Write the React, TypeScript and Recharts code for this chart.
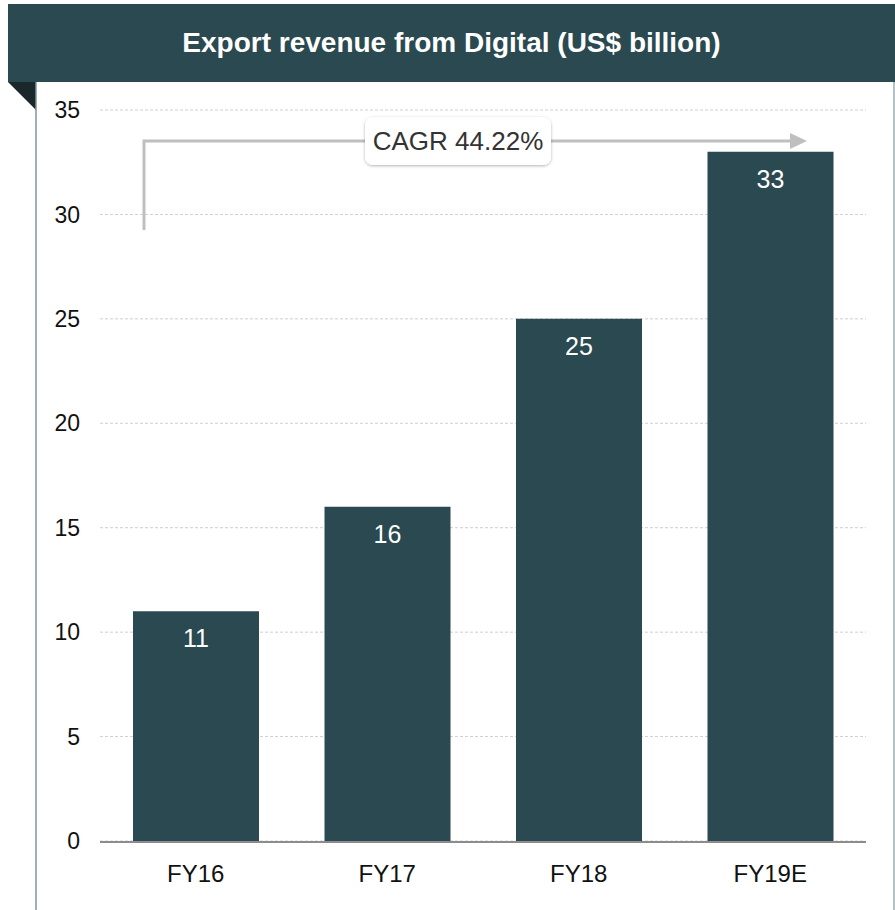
import React from 'react';
import { BarChart, Bar, XAxis, YAxis, CartesianGrid, LabelList } from 'recharts';

// Export revenue from Digital (US$ billion)
const years = ['FY16', 'FY17', 'FY18', 'FY19E'];
const revenue = [11, 16, 25, 33];
const yTicks = [0, 5, 10, 15, 20, 25, 30, 35];
const edgeTicks = [0, 1, 2, 3, 4];
const cagrLabel = 'CAGR 44.22%';

const data = years.map((name, i) => ({ name, value: revenue[i] }));

const FONT = '"Liberation Sans", Arial, sans-serif';
const TEAL = '#2a4950';

export default function App() {
  return (
    <div style={{ position: 'absolute', left: 0, top: 0, width: 895, height: 910, background: '#fff', fontFamily: FONT, overflow: 'hidden' }}>
      {/* header band */}
      <div
        style={{
          position: 'absolute',
          left: 8,
          top: 4,
          width: 887,
          height: 78,
          background: TEAL,
          color: '#fff',
          fontWeight: 'bold',
          fontSize: 28,
          lineHeight: '78px',
          textAlign: 'center',
        }}
      >
        Export revenue from Digital (US$ billion)
      </div>

      {/* frame: fold + side lines */}
      <svg width={895} height={910} style={{ position: 'absolute', left: 0, top: 0 }}>
        <polygon points="8,82 36,82 36,110" fill="#1a272b" />
        <line x1={36} y1={82} x2={36} y2={910} stroke="#7f959a" strokeWidth={1.5} />
        <line x1={894} y1={82} x2={894} y2={910} stroke="#9aabaf" strokeWidth={1.5} />
      </svg>

      <div style={{ position: 'absolute', left: 0, top: 0 }}>
        <BarChart width={895} height={910} data={data} margin={{ top: 110, right: 29, bottom: 0, left: 0 }}>
          <CartesianGrid vertical={false} stroke="#cfcfcf" strokeDasharray="3 2" />
          <XAxis
            dataKey="name"
            axisLine={false}
            tickLine={false}
            height={1}
            tickMargin={18}
            tick={{ fill: '#111', fontSize: 24, fontFamily: FONT }}
          />
          {/* boundary tick marks + axis line, stacked just under the category axis */}
          <XAxis
            xAxisId="edges"
            type="number"
            domain={[0, 4]}
            allowDataOverflow
            ticks={edgeTicks}
            tick={false}
            height={68}
            tickSize={7}
            stroke="#8c8c8c"
            strokeWidth={2}
          />
          <YAxis
            width={100}
            domain={[0, 35]}
            ticks={yTicks}
            axisLine={false}
            tickLine={false}
            tickSize={0}
            tickMargin={20}
            tick={{ fill: '#111', fontSize: 23, fontFamily: FONT }}
          />
          <Bar dataKey="value" fill={TEAL} barSize={126} isAnimationActive={false}>
            <LabelList dataKey="value" position="insideTop" offset={18} fill="#fff" fontSize={25} fontFamily={FONT} />
          </Bar>
        </BarChart>
      </div>

      {/* CAGR annotation */}
      <svg width={895} height={910} style={{ position: 'absolute', left: 0, top: 0, pointerEvents: 'none' }}>
        <defs>
          <filter id="shadow" x="-20%" y="-30%" width="140%" height="170%">
            <feDropShadow dx={0} dy={1} stdDeviation={1.5} floodColor="#000" floodOpacity={0.3} />
          </filter>
        </defs>
        <polyline points="144,230 144,141 792,141" fill="none" stroke="#bfbfbf" strokeWidth={3} />
        <polygon points="790,133 807,141 790,149" fill="#bfbfbf" />
        <rect x={365} y={117} width={186} height={48} rx={8} fill="#fff" filter="url(#shadow)" />
        <text x={458} y={141} textAnchor="middle" dominantBaseline="central" fontSize={26} fill="#333" fontFamily={FONT}>
          {cagrLabel}
        </text>
      </svg>
    </div>
  );
}
